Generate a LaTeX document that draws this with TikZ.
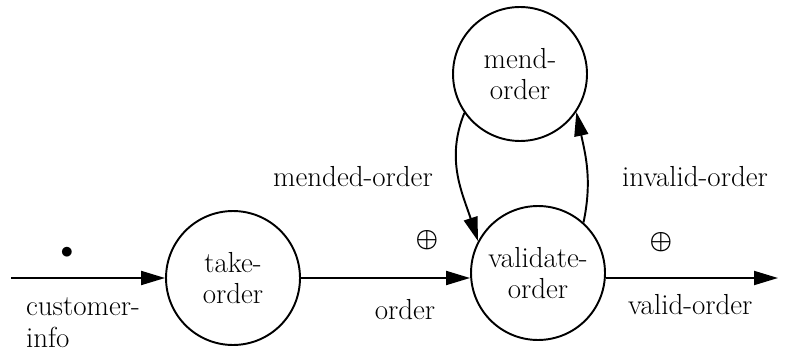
\documentclass[tikz,border=0pt]{standalone}
\usepackage{tikz}
\usepackage{amsmath}
\usetikzlibrary{arrows.meta, positioning}

\begin{document}
\begin{tikzpicture}[
    x=0.02cm, y=-0.02cm,
    font=\fontsize{16.5}{18}\selectfont,
    process/.style={circle, draw, line width=1.1pt, minimum size=2.68cm, inner sep=0pt, align=center},
    flow/.style={draw, line width=1.1pt, -{Triangle[length=0.48cm, width=0.28cm]}},
    lbl/.style={inner sep=1pt},
    symb/.style={inner sep=0pt, font=\fontsize{15}{15}\selectfont}
]
    \useasboundingbox (0,0) rectangle (786,351);

    % Processes
    \node[process] (T) at (233, 278) {take-\\order};
    \node[process] (V) at (538, 273) {validate-\\order};
    \node[process] (M) at (520, 74) {mend-\\order};

    % Free ends
    \coordinate (In) at (11, 278);
    \coordinate (Out) at (778, 278);

    % Flows
    \draw[flow] (In) -- (T.west |- In);
    \draw[flow] (T.east |- In) -- (V.west |- In);
    \draw[flow] (V.east |- In) -- (Out);
    \draw[flow] (M.215) to[out=-112, in=108] (V.152);
    \draw[flow] (V.48) to[out=78, in=-78] (M.-34);

    % Labels
    \node[lbl, align=left, anchor=north west] (ci) at (24, 296) {customer-\\info};
    \node[lbl] (o) at (405, 310) {order};
    \node[lbl, anchor=west] (vo) at (626, 305) {valid-order};
    \node[lbl] (mo) at (353, 177) {mended-order};
    \node[lbl] (io) at (695, 177) {invalid-order};

    % Markers
    \node[symb] (dot) at (67, 253) {$\bullet$};
    \node[symb] (p1) at (427, 240) {$\boldsymbol{\oplus}$};
    \node[symb] (p2) at (661, 242) {$\boldsymbol{\oplus}$};
\end{tikzpicture}
\end{document}
